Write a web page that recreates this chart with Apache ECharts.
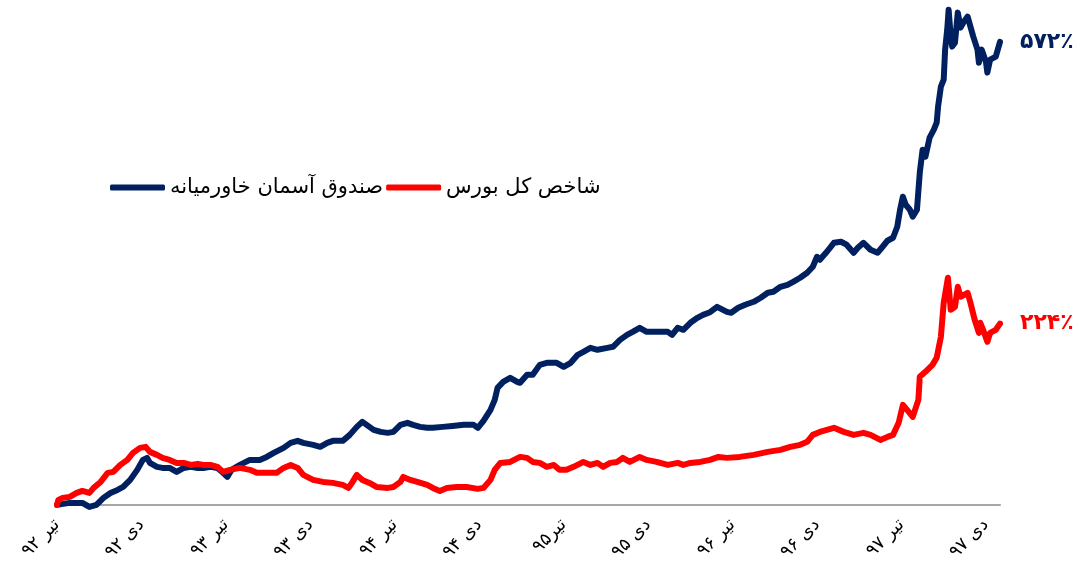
<!DOCTYPE html>
<html>
<head>
<meta charset="utf-8">
<script src="https://cdn.jsdelivr.net/npm/echarts@6/dist/echarts.min.js"></script>
<style>
html, body { margin: 0; padding: 0; background: #fff; }
#main { width: 1087px; height: 578px; }
</style>
</head>
<body>
<div id="main"></div>
<script>
// برچسب‌های محور افقی (هر ۶ ماه)
var tickLabels = ["تیر ۹۲", "دی ۹۲", "تیر ۹۳", "دی ۹۳", "تیر ۹۴", "دی ۹۴",
                  "تیر۹۵", "دی ۹۵", "تیر ۹۶", "دی ۹۶", "تیر ۹۷", "دی ۹۷"];

// صندوق آسمان خاورمیانه - ماه از تیر ۹۲ و بازده تجمعی (درصد)
var fundMonths = [0, 0.9, 1.8, 2.3, 2.8, 3.3, 3.8, 4.3, 4.7, 5.2, 5.7, 6.1, 6.4, 6.6, 7.1, 7.5, 8.0, 8.5, 9.0, 9.5,
  10.0, 10.4, 10.9, 11.4, 11.8, 12.1, 12.4, 13.0, 13.7, 14.4, 14.9, 15.4, 16.1, 16.6, 17.1, 17.5, 18.2, 18.7, 19.2, 19.6,
  20.3, 20.8, 21.3, 21.7, 22.0, 22.5, 23.0, 23.5, 23.9, 24.4, 24.9, 25.3, 25.8, 26.3, 26.7, 27.4, 28.1, 28.9, 29.6, 29.9,
  30.3, 30.8, 31.1, 31.3, 31.7, 32.2, 32.7, 32.9, 33.4, 33.8, 34.3, 34.8, 35.5, 36.0, 36.5, 37.0, 37.4, 37.9, 38.4, 39.1,
  39.5, 40.0, 40.5, 40.9, 41.4, 41.9, 42.6, 43.4, 43.7, 44.1, 44.5, 45.0, 45.5, 45.9, 46.4, 46.9, 47.6, 47.9, 48.4, 48.9,
  49.5, 50.0, 50.5, 50.9, 51.4, 51.9, 52.3, 52.8, 53.3, 53.7, 54.0, 54.2, 54.7, 55.2, 55.7, 56.1, 56.6, 56.9, 57.3, 57.8,
  58.3, 58.6, 59.0, 59.4, 59.7, 59.9, 60.1, 60.3, 60.6, 60.8, 61.1, 61.3, 61.5, 61.7, 62.0, 62.3, 62.5, 62.6, 62.8, 63.0,
  63.1, 63.25, 63.35, 63.5, 63.6, 63.8, 64.0, 64.2, 64.4, 64.7, 64.9, 65.1, 65.4, 65.5, 65.7, 66.0, 66.1, 66.3, 66.7, 67.0];
var fundValues = [0, 2.5, 2.5, -2.5, 0, 8.7, 14.8, 18.5, 22.2, 30.9, 43.3, 55.6, 58.1, 51.9, 47, 45.7, 45.7, 40.8, 45.7, 47,
  45.7, 45.7, 47, 45.7, 39.6, 34.6, 43.3, 49.4, 55.6, 55.6, 59.3, 64.3, 70.5, 76.6, 79.1, 76.6, 74.2, 71.7, 76.6, 79.1,
  79.1, 86.5, 96.4, 102.6, 98.9, 92.7, 90.2, 89, 90.2, 98.9, 101.4, 98.9, 96.4, 95.2, 95.2, 96.4, 97.6, 98.9, 98.9, 95.2,
  103.8, 117.4, 129.8, 144.6, 152, 157, 152, 150.8, 160.7, 160.7, 173, 175.5, 175.5, 170.6, 175.5, 185.4, 189.1, 194, 191.6, 194,
  195.3, 203.9, 210.1, 213.8, 218.8, 213.8, 213.8, 213.8, 210.1, 218.8, 216.3, 225, 231.1, 234.8, 238, 244.7, 238.5, 237.3, 243.5, 247.2,
  250.9, 255.9, 262, 263.3, 269.4, 271.9, 275.6, 280.6, 286.8, 294.2, 306.5, 302.8, 312.7, 323.8, 325.1, 321.4, 311.5, 317.7, 323.8, 315.2,
  311.5, 317.7, 326.3, 330, 343.6, 364.6, 380.7, 370.8, 364.6, 356, 364.6, 410.4, 438.8, 430.1, 453.6, 463.5, 472.2, 491.9, 516.6, 525.3,
  562.4, 587.1, 611.8, 578.4, 566.1, 571, 608.1, 589.6, 595.8, 603.2, 590.8, 578.4, 562.4, 546.3, 562.4, 547.5, 534, 550, 553.7, 572];

// شاخص کل بورس
var indexMonths = [0, 0.1, 0.4, 0.9, 1.4, 1.8, 2.3, 2.6, 3.1, 3.6, 4.0, 4.5, 5.0, 5.4, 5.9, 6.3, 6.6, 7.1, 7.5, 8.0,
  8.5, 9.0, 9.5, 10.0, 10.4, 10.9, 11.4, 11.8, 12.3, 13.0, 13.7, 14.2, 14.9, 15.6, 16.1, 16.6, 17.1, 17.5, 18.2, 18.9,
  19.6, 20.3, 20.7, 21.0, 21.3, 21.7, 22.2, 22.7, 23.5, 23.9, 24.4, 24.6, 25.1, 25.6, 26.3, 26.7, 27.2, 27.7, 28.4, 29.1,
  29.9, 30.3, 30.8, 31.1, 31.5, 32.2, 32.9, 33.4, 33.8, 34.3, 34.8, 35.3, 35.7, 36.2, 36.7, 37.4, 37.9, 38.4, 38.8, 39.3,
  39.8, 40.2, 40.7, 41.4, 41.9, 42.6, 43.4, 44.1, 44.5, 45.0, 45.7, 46.4, 47.0, 47.6, 48.5, 49.5, 50.5, 51.4, 52.1, 52.8,
  53.3, 53.7, 54.2, 54.7, 55.2, 55.9, 56.6, 57.3, 57.8, 58.5, 59.0, 59.4, 59.8, 60.1, 60.4, 60.8, 61.2, 61.3, 61.7, 62.2,
  62.5, 62.8, 63.0, 63.3, 63.5, 63.8, 64.0, 64.2, 64.7, 64.9, 65.2, 65.5, 65.6, 65.8, 66.1, 66.3, 66.7, 67.0];
var indexValues = [0, 6.2, 8.7, 9.9, 14.8, 17.3, 14.8, 21, 28.4, 39.6, 40.8, 49.4, 55.6, 64.3, 70.5, 71.7, 65.5, 61.8, 58.1, 55.6,
  51.9, 51.9, 49.4, 50.7, 49.4, 49.4, 47, 40.8, 43.3, 45.7, 43.3, 39.6, 39.6, 39.6, 45.7, 49.4, 45.7, 37.1, 30.9, 28.4,
  27.2, 24.7, 21, 28.4, 37.1, 30.9, 27.2, 22.2, 21, 22.2, 28.4, 34.6, 30.9, 28.4, 24.7, 21, 17.3, 21, 22.2, 22.2,
  19.8, 21, 30.9, 43.3, 51.9, 53.1, 59.3, 58.1, 53.1, 51.9, 47, 49.4, 43.3, 43.3, 47, 53.1, 49.4, 51.9, 47, 51.9,
  53.1, 58.1, 53.1, 59.3, 55.6, 53.1, 49.4, 51.9, 49.4, 51.9, 53.1, 55.6, 59.3, 58.1, 59.3, 61.8, 65.5, 68, 71.7, 74.2,
  77.9, 86.5, 90.2, 92.7, 95.2, 90.2, 86.5, 89, 86.5, 80.3, 84, 86.5, 101.4, 123.6, 117.4, 108.8, 129.8, 158.2, 164.4, 173,
  181.7, 207.6, 249.7, 280.6, 241, 244.7, 269.4, 257.1, 262, 249.7, 228.7, 212.6, 225, 216.3, 201.5, 212.6, 216.3, 224];

var seriesNames = ["صندوق آسمان خاورمیانه", "شاخص کل بورس"];
var endTexts = ["۵۷۲٪", "۲۲۴٪"];
var colors = ["#002060", "#FF0000"];

function pairs(xs, ys) {
  var out = [];
  for (var i = 0; i < xs.length; i++) {
    out.push([xs[i], ys[i]]);
  }
  return out;
}

var chart = echarts.init(document.getElementById("main"));
var font = "DejaVu Sans";

function makeSeries(idx, xs, ys) {
  return {
    name: seriesNames[idx],
    type: "line",
    data: pairs(xs, ys),
    symbol: "none",
    smooth: false,
    animation: false,
    color: colors[idx],
    lineStyle: { width: 6, color: colors[idx], cap: "round", join: "round" },
    endLabel: {
      show: true,
      formatter: endTexts[idx],
      color: colors[idx],
      fontFamily: font,
      fontWeight: "bold",
      fontSize: 22,
      distance: 20
    }
  };
}

var option = {
  backgroundColor: "#fff",
  grid: { left: 57, right: 87, top: 3, bottom: 65 },
  legend: {
    left: 105,
    top: 172,
    icon: "roundRect",
    itemWidth: 55,
    itemHeight: 6,
    itemGap: 3,
    data: seriesNames,
    textStyle: { fontFamily: font, fontSize: 21, color: "#000" }
  },
  xAxis: {
    type: "value",
    min: 0,
    max: 67,
    interval: 6,
    splitLine: { show: false },
    axisTick: { show: false },
    axisLine: { onZero: true, lineStyle: { color: "#A6A6A6", width: 2 } },
    axisLabel: {
      rotate: 45,
      margin: 9,
      fontFamily: font,
      fontSize: 18,
      color: "#000",
      showMaxLabel: false,
      formatter: function(v) {
        if (v % 6 !== 0) return "";
        return tickLabels[v / 6] || "";
      }
    }
  },
  yAxis: {
    type: "value",
    min: -10,
    max: 620,
    show: false,
    splitLine: { show: false }
  },
  series: [
    makeSeries(0, fundMonths, fundValues),
    makeSeries(1, indexMonths, indexValues)
  ]
};
chart.setOption(option);
</script>
</body>
</html>
